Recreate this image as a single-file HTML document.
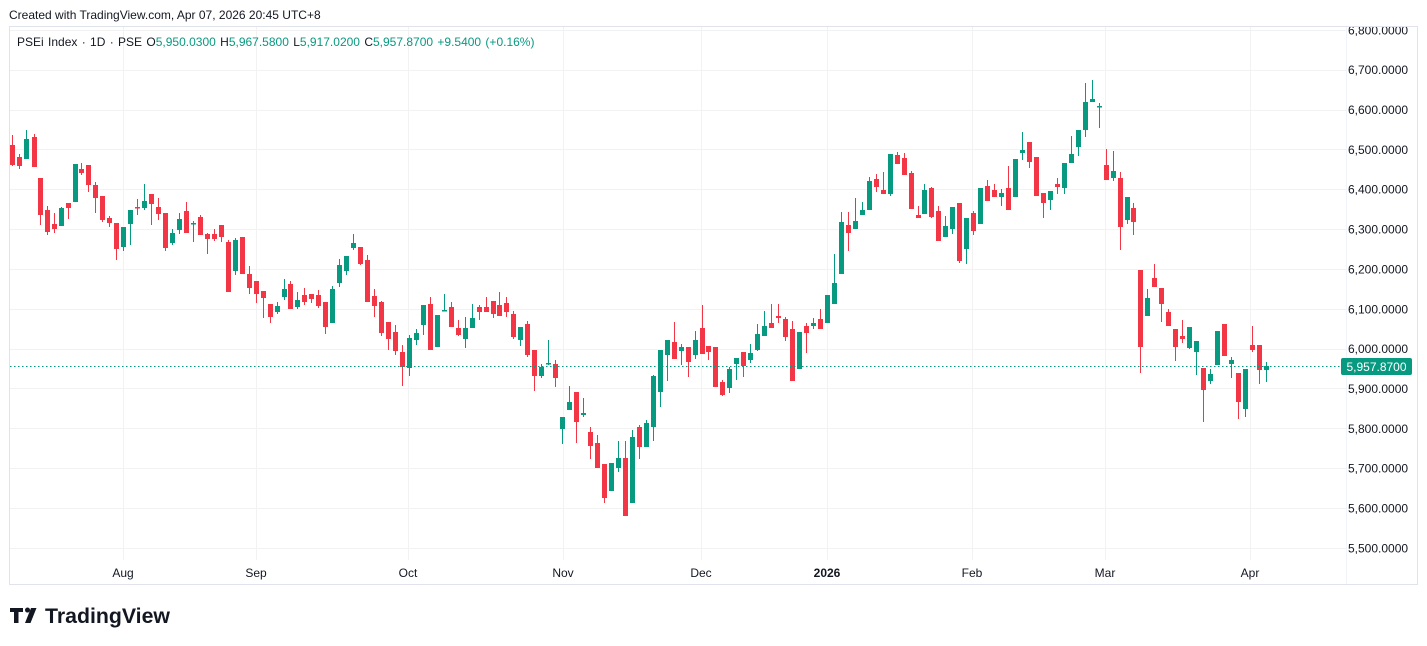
<!DOCTYPE html>
<html><head><meta charset="utf-8"><style>
body{margin:0;background:#fff;width:1427px;height:646px;overflow:hidden;font-family:"Liberation Sans",sans-serif;}
svg{display:block}
</style></head><body>
<svg id="s" width="1427" height="646" xmlns="http://www.w3.org/2000/svg" font-family="Liberation Sans, sans-serif">
<defs><clipPath id="cp"><rect x="0" y="27" width="1427" height="560"/></clipPath></defs>
<rect width="1427" height="646" fill="#fff"/>
<text x="9" y="19" font-size="12" fill="#131722">Created with TradingView.com, Apr 07, 2026 20:45 UTC+8</text>
<rect x="9.5" y="26.5" width="1408" height="558" fill="none" stroke="#e0e3eb"/>
<line x1="1346.5" y1="27" x2="1346.5" y2="584" stroke="#f0f3fa"/>
<g stroke="#f2f2f2" stroke-width="1" id="grid"></g>
<g id="c"></g>
<line x1="10" y1="366.5" x2="1346" y2="366.5" stroke="#089981" stroke-dasharray="1.5,2.5"/>
<text x="17" y="46" font-size="12" fill="#131722" word-spacing="1">PSEi Index · 1D · PSE  <tspan>O</tspan><tspan fill="#089981">5,950.0300</tspan>  <tspan>H</tspan><tspan fill="#089981">5,967.5800</tspan>  <tspan>L</tspan><tspan fill="#089981">5,917.0200</tspan>  <tspan>C</tspan><tspan fill="#089981">5,957.8700</tspan>  <tspan fill="#089981">+9.5400 (+0.16%)</tspan></text>
<g font-size="12" fill="#131722" id="yl" clip-path="url(#cp)"></g>
<rect x="1341" y="358" width="71" height="17" rx="2" fill="#089981"/>
<text x="1376.5" y="371" font-size="12" fill="#fff" text-anchor="middle">5,957.8700</text>
<g font-size="12" fill="#131722" text-anchor="middle">
<text x="123" y="577">Aug</text><text x="256" y="577">Sep</text><text x="408" y="577">Oct</text><text x="563" y="577">Nov</text><text x="701" y="577">Dec</text><text x="827" y="577" font-weight="bold">2026</text><text x="972" y="577">Feb</text><text x="1105" y="577">Mar</text><text x="1250" y="577">Apr</text>
</g>
<g transform="translate(10,606)"><path d="M0 2h13v4h-4.5v11h-4.5v-11h-4z M15 17l6-15h5.5l-6 15z M15 4a2.5 2.5 0 1 1 0 .1z" fill="#131722"/></g>
<text x="45" y="623" font-size="21" font-weight="bold" fill="#131722" textLength="125" lengthAdjust="spacingAndGlyphs">TradingView</text>
</svg>
<script>
var NS="http://www.w3.org/2000/svg";
function el(p,t,a,txt){var e=document.createElementNS(NS,t);for(var k in a)e.setAttribute(k,a[k]);if(txt)e.textContent=txt;p.appendChild(e);return e;}
var g=document.getElementById('grid'),yl=document.getElementById('yl');
[123,256,408,563,701,827,972,1105,1250].forEach(function(x){el(g,'line',{x1:x+.5,y1:27,x2:x+.5,y2:560});});
for(var i=0;i<=13;i++){var p=6800-i*100;var y=29.8+i*39.85;el(g,'line',{x1:10,y1:Math.round(y)+.5,x2:1346,y2:Math.round(y)+.5});
var s=String(p);s=s[0]+','+s.slice(1)+'.0000';el(yl,'text',{x:1348,y:y+4.5},s);}
var d=`12.3,145,165,135,166,r
19,157,166,154,169,r
26,139,159,130,159,g
33.7,137,167,134,167,r
40,178,215,178,225,r
47,210,232,206,235,r
54,224,229,213,233,r
61,208,226,207,226,g
68,203,208,203,219,r
75,164,202,164,202,g
81,169,173,163,175,r
88,165,185,165,192,r
95,185,198,182,213,r
102,196,220,196,222,r
109,218,223,216,227,r
116,223,249,223,260,r
123,227,247,227,251,g
130,210,224,210,245,g
137,207,208,199,215,r
144,201,208,184,210,g
151,194,204,194,225,r
158,207,214,198,220,r
165,213,248,213,251,r
172,233,243,229,245,g
179,219,230,213,234,g
186,211,233,202,233,r
193,223,224,221,242,g
200,217,235,215,235,r
207,234,239,233,254,r
214,234,239,229,241,r
221,225,237,225,242,r
228,242,292,240,292,r
235,240,271,238,275,g
242,237,274,237,274,r
249,274,288,266,294,r
256,281,294,281,303,r
263,291,298,291,318,r
270,304,317,304,323,r
277,306,312,302,314,g
284,289,297,279,300,g
290,284,309,281,309,r
297,300,307,292,309,g
304,295,302,288,305,r
311,294,299,294,303,r
318,295,306,290,308,r
325,302,327,302,334,r
332,289,323,286,323,g
339,265,283,259,287,g
346,256,271,256,275,g
353,243,248,234,250,g
360,247,264,247,265,r
367,260,302,255,302,r
374,296,306,289,317,r
381,302,333,301,336,r
388,322,339,322,350,r
395,332,351,325,355,r
402,352,367,345,386,r
409,338,368,335,376,g
416,333,340,329,345,g
423,305,325,305,335,g
430,304,350,297,350,r
437,315,347,315,347,g
444,310,311,294,311,g
451,307,327,302,327,r
458,328,335,320,336,r
465,328,339,317,348,g
472,318,328,304,328,g
479,307,312,305,320,r
486,307,312,297,312,r
493,301,314,301,318,r
499,305,316,292,316,r
506,303,312,297,317,r
513,314,337,311,339,r
520,327,340,327,346,g
527,324,355,321,357,r
534,350,376,350,391,r
541,367,376,364,378,g
548,363,364,340,365,g
555,364,378,360,387,r
562,417,429,417,444,g
569,402,410,386,410,g
576,392,422,392,443,r
583,413,415,398,417,g
590,432,446,427,459,r
597,443,468,435,468,r
604,464,498,464,503,r
611,463,491,463,491,g
618,458,468,441,472,g
625,458,516,441,516,r
632,437,503,430,503,g
639,427,447,425,459,r
646,423,447,420,447,g
653,376,427,375,441,g
660,350,392,350,407,g
667,340,355,340,381,g
674,342,359,322,359,r
681,347,351,344,365,g
688,347,362,347,377,r
695,340,355,331,359,g
702,328,354,305,354,r
708,346,352,346,360,r
715,347,387,347,387,r
722,382,395,380,396,r
729,369,388,367,393,g
736,358,364,358,380,g
743,352,366,352,377,r
750,353,360,344,363,g
757,334,350,324,351,g
764,326,336,311,336,g
771,323,328,304,328,r
778,316,318,304,323,r
785,319,337,317,341,r
792,329,381,321,381,r
799,332,369,332,369,g
806,326,333,323,353,r
813,323,326,318,329,g
820,319,329,309,329,r
827,295,323,295,323,g
834,283,304,254,304,g
841,222,274,212,274,g
848,225,233,212,251,r
855,221,229,198,229,g
862,210,215,202,215,g
869,181,210,177,210,g
876,179,187,174,192,r
883,190,194,172,194,r
890,154,194,154,196,g
897,155,164,152,164,r
904,158,175,153,175,r
911,173,209,171,209,r
918,215,218,206,218,r
924,190,214,184,214,g
931,188,217,187,218,r
938,211,241,206,241,r
945,226,237,216,237,g
952,207,229,207,234,g
959,203,261,203,263,r
966,218,249,218,264,g
973,213,231,211,235,r
980,188,224,188,224,g
987,186,201,180,201,r
994,190,197,184,197,r
1001,193,197,189,206,g
1008,188,210,166,210,r
1015,159,197,159,197,g
1022,150,153,132,160,g
1029,142,162,142,168,r
1036,157,196,157,196,r
1043,193,203,193,218,r
1050,191,200,191,210,g
1057,184,187,178,194,r
1064,163,188,163,194,g
1071,154,163,136,163,g
1078,130,147,130,156,g
1085,102,130,83,137,g
1092,99,102,80,102,g
1099,106,107,103,128,g
1106,165,180,149,180,r
1113,171,178,151,181,g
1120,178,227,172,250,r
1127,197,220,197,224,g
1133,208,222,203,235,r
1140,270,347,270,373,r
1147,298,316,289,316,g
1154,278,287,264,287,r
1161,288,304,288,322,r
1168,312,326,309,326,r
1175,329,347,329,361,r
1182,336,339,320,343,r
1189,327,348,327,349,g
1196,341,352,341,375,g
1203,368,390,368,422,r
1210,374,381,369,384,g
1217,331,365,331,365,g
1224,324,356,324,356,r
1231,360,364,357,378,g
1238,373,402,373,419,r
1245,369,409,369,417,g
1252,345,350,326,352,r
1259,345,370,345,384,r
1266,366,370,362,382,g`;
var c=document.getElementById('c');
d.split('\n').forEach(function(l){var a=l.split(',');var x=Math.round(+a[0]),t=+a[1],b=+a[2],h=+a[3],lo=+a[4];var col=a[5]=='r'?'#F23645':'#089981';
el(c,'rect',{x:x,y:h,width:1,height:Math.max(1,lo-h),fill:col});
el(c,'rect',{x:x-2,y:t,width:5,height:Math.max(1.5,b-t),fill:col});});
</script>
</body></html>
